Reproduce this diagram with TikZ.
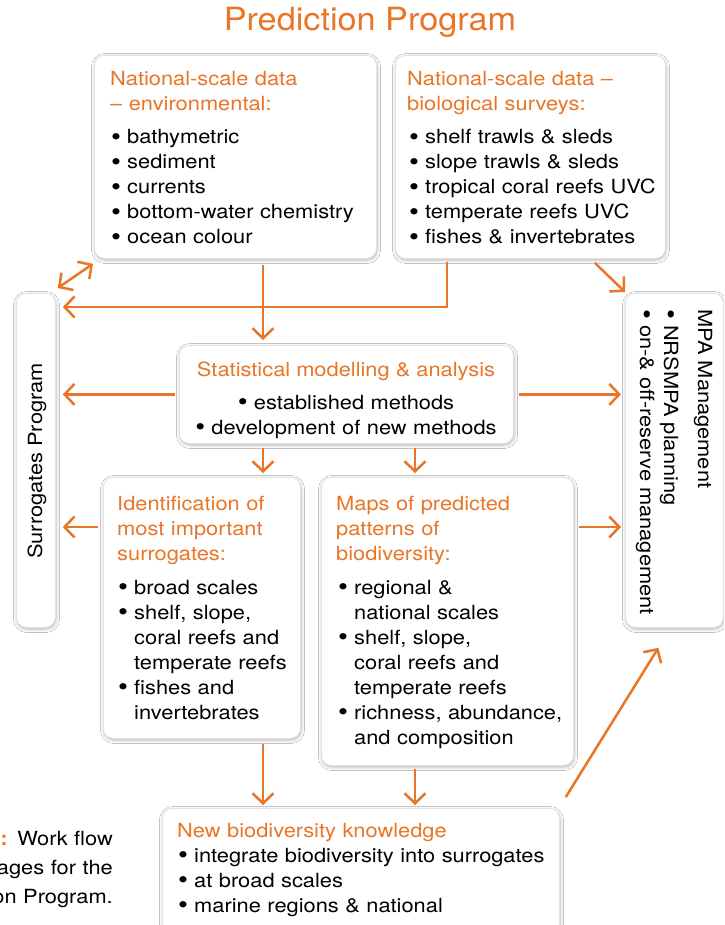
\documentclass[tikz,border=0pt]{standalone}
\usepackage{fontspec}
\setmainfont{TeX Gyre Heros}[FakeStretch=1.12]
\newfontfamily\titlefont{TeX Gyre Heros}[FakeStretch=1.07]
\usetikzlibrary{arrows.meta,shadows.blur,calc}

\definecolor{orng}{RGB}{232,118,38}
\definecolor{rim}{RGB}{226,226,226}

\newcommand\bul{\makebox[16pt][l]{\raisebox{-0.09em}{\scalebox{1.3}{•}}}}
\newcommand\ind{\hspace*{16pt}}

\tikzset{
  panel/.style={draw=rim, line width=0.8pt, fill=white, rounded corners=10pt,
    inner sep=0pt, anchor=north west,
    blur shadow={shadow xshift=0.6pt, shadow yshift=-1.6pt,
      shadow blur radius=3.5pt, shadow opacity=30}},
  body/.style={font=\fontsize{19.5}{25}\selectfont, inner sep=0pt},
  head/.style={body, text=orng, anchor=base west, align=left, text width=260pt},
  items/.style={body, anchor=base west, align=left, text width=260pt},
  >={Straight Barb[length=10pt,width=21pt]},
  flow/.style={draw=orng, line width=2.5pt, ->},
  twoway/.style={draw=orng, line width=2.5pt, <->},
}

\begin{document}
\begin{tikzpicture}[x=1pt,y=-1pt]
  \useasboundingbox (0,0) rectangle (724,925);
  \clip (0,0) rectangle (724,925);
  \fill[white] (0,0) rectangle (724,925);

  % title
  \node[font=\titlefont\fontsize{32}{36}\selectfont, text=orng, anchor=base, inner sep=0pt]
    (title) at (370,31) {Prediction Program};

  % panels
  \node[panel, minimum width=39pt,  minimum height=334pt] (surr)  at (16,293)  {};
  \node[panel, minimum width=282pt, minimum height=203pt] (env)   at (94,55)   {};
  \node[panel, minimum width=270pt, minimum height=203pt] (bio)   at (395,55)  {};
  \node[panel, minimum width=98pt,  minimum height=334pt] (mpa)   at (625,293) {};
  \node[panel, minimum width=334pt, minimum height=98pt]  (stat)  at (179,345) {};
  \node[panel, minimum width=197pt, minimum height=261pt] (ident) at (103,477) {};
  \node[panel, minimum width=252pt, minimum height=288pt] (maps)  at (321,477) {};
  \node[panel, minimum width=397pt, minimum height=140pt] (new)   at (162,808) {};

  % environmental data
  \node[head] (envH) at (110,86) {National-scale data\\– environmental:};
  \node[items] (envL) at (111,144) {\bul bathymetric\\\bul sediment\\\bul currents\\
    \bul bottom-water chemistry\\\bul ocean colour};

  % biological surveys
  \node[head] (bioH) at (407,86) {National-scale data –\\biological surveys:};
  \node[items] (bioL) at (409,144) {\bul shelf trawls \& sleds\\\bul slope trawls \& sleds\\
    \bul tropical coral reefs UVC\\\bul temperate reefs UVC\\\bul fishes \& invertebrates};

  % statistical modelling
  \node[body, text=orng, anchor=base] (statH) at (346,376) {Statistical modelling \& analysis};
  \node[body, anchor=base, align=center, text width=330pt] (statL) at (346,409)
    {\bul established methods\\\bul development of new methods};

  % surrogates
  \node[head] (identH) at (117,510) {Identification of\\most important\\surrogates:};
  \node[items] (identL) at (118,594) {\bul broad scales\\\bul shelf, slope,\\
    \ind coral reefs and\\\ind temperate reefs\\\bul fishes and\\\ind invertebrates};

  % maps
  \node[head] (mapsH) at (336,510) {Maps of predicted\\patterns of\\biodiversity:};
  \node[items] (mapsL) at (338,594) {\bul regional \&\\\ind national scales\\\bul shelf, slope,\\
    \ind coral reefs and\\\ind temperate reefs\\\bul richness, abundance,\\\ind and composition};

  % new knowledge
  \node[head, text width=380pt] (newH) at (177,837) {New biodiversity knowledge};
  \node[items, text width=380pt] (newL) at (178,862) {\bul integrate biodiversity into surrogates\\
    \bul at broad scales\\\bul marine regions \& national};

  % side panels
  \node[body, rotate=90, anchor=base] (surrT) at (42,461) {Surrogates Program};
  \node[body, rotate=-90, anchor=base west] (mpaT) at (698,309) {MPA Management};
  \node[body, rotate=-90, anchor=base west] (mpaA) at (664,309) {\bul NRSMPA planning};
  \node[body, rotate=-90, anchor=base west] (mpaB) at (640,309) {\bul on-\& off-reserve management};

  % caption
  \node[body, anchor=base east, align=right, text width=140pt,
    font=\fontsize{19.5}{29}\selectfont] (cap) at (113,845)
    {{\color{orng}\bfseries :} Work flow\\ages for the\\on Program.};

  % connector columns and rows
  \coordinate (cA) at (263,0);
  \coordinate (cB) at (447,0);
  \coordinate (cC) at (415,0);
  \coordinate (r1) at (0,307);
  \coordinate (r3) at (0,527);

  % connectors
  \draw[flow, shorten <=6pt, shorten >=5pt] (env.south -| cA) -- (stat.north -| cA);
  \draw[flow, shorten <=3pt, shorten >=7pt] (bio.south -| cB) |- (surr.east |- r1);
  \draw[twoway] ($(env.south west)+(-1,5)$) -- ($(surr.north east)+(2,-5)$);
  \draw[flow] ($(bio.south east)+(-71,4)$) -- ($(mpa.north west)+(0,-1)$);
  \draw[flow, shorten <=4pt, shorten >=7pt] (stat.west) -- (surr.east |- stat.west);
  \draw[flow, shorten <=5pt, shorten >=4pt] (stat.east) -- (mpa.west |- stat.east);
  \draw[flow, shorten <=4pt, shorten >=4pt] (stat.south -| cA) -- (ident.north -| cA);
  \draw[flow, shorten <=4pt, shorten >=4pt] (stat.south -| cC) -- (maps.north -| cC);
  \draw[flow, shorten <=5pt, shorten >=7pt] (ident.west |- r3) -- (surr.east |- r3);
  \draw[flow, shorten <=5pt, shorten >=4pt] (maps.east |- r3) -- (mpa.west |- r3);
  \draw[flow, shorten <=5pt, shorten >=3pt] (ident.south -| cA) -- (new.north -| cA);
  \draw[flow, shorten <=3pt, shorten >=3pt] (maps.south -| cC) -- (new.north -| cC);
  \draw[flow] ($(new.north east)+(6,-11)$) -- ($(mpa.south)+(-16,20)$);
\end{tikzpicture}
\end{document}
